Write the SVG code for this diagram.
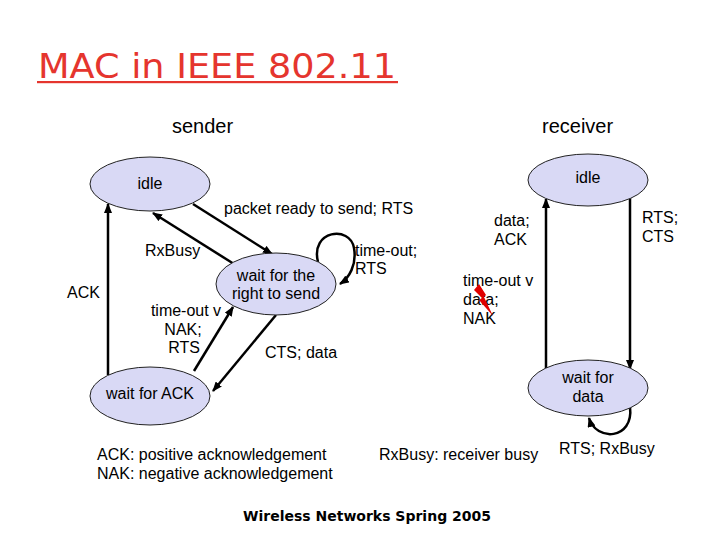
<svg xmlns="http://www.w3.org/2000/svg" width="720" height="540" viewBox="0 0 720 540">
<defs>
<marker id="arr" markerUnits="userSpaceOnUse" markerWidth="10" markerHeight="8" refX="9" refY="4" orient="auto">
<path d="M0,0 L10,4 L0,8 z" fill="#000"/>
</marker>
<style>
.st{fill:#d9d9f5;stroke:#222;stroke-width:1}
.t{font-family:"Liberation Sans",Arial,sans-serif;font-size:16px;fill:#000}
.c{text-anchor:middle}
.e{fill:none;stroke:#000;stroke-width:2.5;marker-end:url(#arr)}
</style>
</defs>
<rect width="720" height="540" fill="#fff"/>
<text x="38" y="78" font-family="DejaVu Sans,Verdana,sans-serif" font-size="34" fill="#e5352e" textLength="358" lengthAdjust="spacingAndGlyphs">MAC in IEEE 802.11</text>
<rect x="37" y="81" width="361" height="2.2" fill="#e5352e"/>
<text class="t" x="172" y="133" style="font-size:20px">sender</text>
<text class="t" x="542" y="133" style="font-size:20px">receiver</text>

<g id="connectors">
<line class="e" x1="108" y1="375" x2="108" y2="204"/>
<line class="e" x1="193" y1="204" x2="272" y2="254"/>
<line class="e" x1="234" y1="264" x2="153" y2="213"/>
<line class="e" x1="194" y1="371" x2="233" y2="307"/>
<line class="e" x1="276" y1="315" x2="213" y2="391"/>
<path class="e" d="M318,262 C310,230 350,225 354,248 C357,265 349,278 340,284"/>
<line class="e" x1="546" y1="370" x2="546" y2="199"/>
<line class="e" x1="630" y1="198" x2="630" y2="369"/>
<path class="e" d="M630,407 C634,440 596,442 589,418"/>
</g>

<g id="sender-idle"><ellipse class="st" cx="150" cy="184" rx="60" ry="27"/><text class="t c" x="150" y="189">idle</text></g>
<g id="wait-right"><ellipse class="st" cx="276" cy="284" rx="60" ry="31"/><text class="t c" x="276" y="281">wait for the</text><text class="t c" x="276" y="299">right to send</text></g>
<g id="wait-ack"><ellipse class="st" cx="150" cy="396" rx="60" ry="29"/><text class="t c" x="150" y="399">wait for ACK</text></g>
<g id="receiver-idle"><ellipse class="st" cx="588" cy="180" rx="60" ry="26"/><text class="t c" x="588" y="183">idle</text></g>
<g id="wait-data"><ellipse class="st" cx="588" cy="388" rx="60" ry="28"/><text class="t c" x="588" y="383">wait for</text><text class="t c" x="588" y="402">data</text></g>

<g id="labels">
<text class="t" x="224" y="214">packet ready to send; RTS</text>
<text class="t" x="145" y="256">RxBusy</text>
<text class="t" x="67" y="298">ACK</text>
<text class="t c" x="186" y="316">time-out v</text>
<text class="t c" x="183" y="335">NAK;</text>
<text class="t c" x="184" y="353">RTS</text>
<text class="t" x="355" y="256">time-out;</text>
<text class="t" x="355" y="274">RTS</text>
<text class="t" x="265" y="358">CTS; data</text>
<text class="t" x="494" y="226">data;</text>
<text class="t" x="494" y="245">ACK</text>
<text class="t" x="642" y="223">RTS;</text>
<text class="t" x="642" y="242">CTS</text>
<text class="t" x="463" y="286">time-out v</text>
<text class="t" x="463" y="305">data;</text>
<text class="t" x="463" y="324">NAK</text>
</g>
<g id="bolt"><polygon points="474,290 479,284 486,295 484,297 493,316 479,300 482,298" fill="#e00000"/></g>
<g id="legend">
<text class="t" x="559" y="454">RTS; RxBusy</text>
<text class="t" x="97" y="460">ACK: positive acknowledgement</text>
<text class="t" x="97" y="479">NAK: negative acknowledgement</text>
<text class="t" x="379" y="460">RxBusy: receiver busy</text>
<text x="243" y="521" font-family="DejaVu Sans,Verdana,sans-serif" font-size="14" font-weight="bold" fill="#000">Wireless Networks Spring 2005</text>
</g>
</svg>
